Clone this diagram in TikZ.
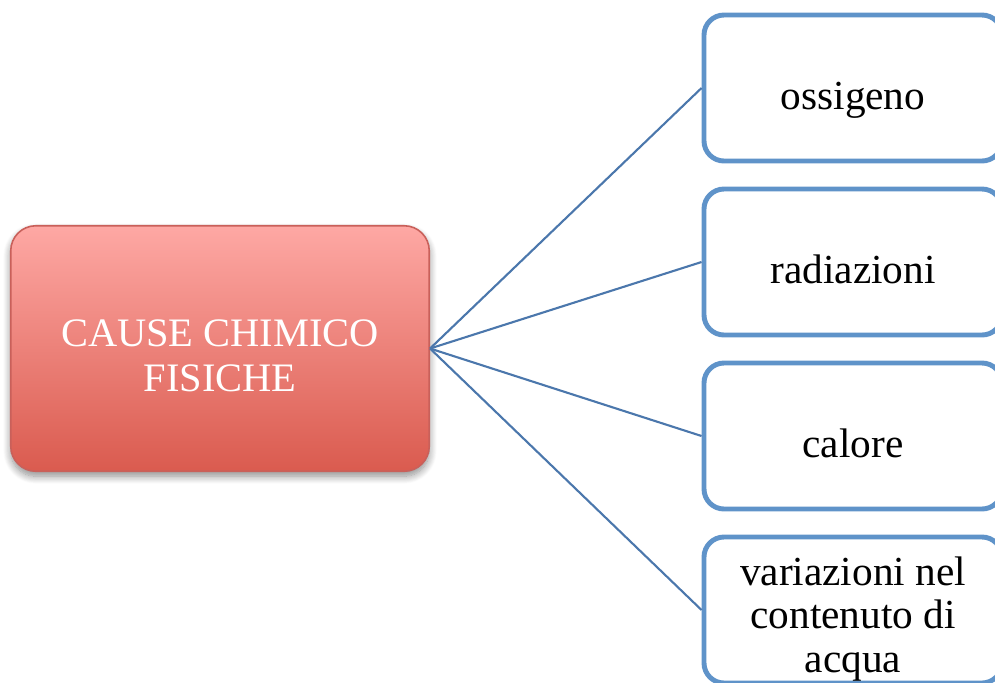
\documentclass[tikz,border=0pt]{standalone}
\usepackage{fontspec}
\setmainfont{Liberation Serif}
\usepackage{tikz}
\usetikzlibrary{shadows.blur}

\definecolor{causetop}{HTML}{FEA8A4}
\definecolor{causebot}{HTML}{DA5B4F}
\definecolor{causeline}{HTML}{C9605A}
\definecolor{boxline}{HTML}{5F93C9}
\definecolor{linkline}{HTML}{4B77AC}

% lines of a node, set a little lower than its centre
\newcommand{\lowlines}[3]{\parbox{#1}{\centering\kern#2#3\par\kern-#2}}

\begin{document}
\begin{tikzpicture}[
	causebox/.style={rectangle, rounded corners=0.5cm, draw=causeline, line width=0.9pt,
		top color=causetop, bottom color=causebot, text=white,
		minimum width=8.37cm, minimum height=4.91cm, inner sep=0pt,
		font=\fontsize{23}{25.5}\selectfont,
		blur shadow={shadow xshift=0cm, shadow yshift=-0.1cm, shadow blur steps=10,
			shadow blur radius=0.15cm, shadow opacity=45}},
	itembox/.style={rectangle, rounded corners=0.4cm, draw=boxline, line width=2.8pt,
		fill=white, minimum width=5.96cm, minimum height=2.92cm, inner sep=0pt,
		font=\fontsize{23.5}{24.5}\selectfont},
	oneline/.style={text height=26pt, text depth=1pt},
	link/.style={draw=linkline, line width=1.2pt}
	]

	\useasboundingbox (0,0) rectangle (19.9,-13.64);

	\node[causebox] (cause) at (4.4,-6.97)
		{\lowlines{8cm}{0.14cm}{CAUSE CHIMICO\\FISICHE}};

	\node[itembox, oneline] (ossigeno) at (17.06,-1.76) {ossigeno};
	\node[itembox, oneline] (radiazioni) at (17.06,-5.24) {radiazioni};
	\node[itembox, oneline] (calore) at (17.06,-8.72) {calore};
	\node[itembox] (acqua) at (17.06,-12.2)
		{\lowlines{5.8cm}{0.18cm}{variazioni nel\\contenuto di\\acqua}};

	\draw[link] (cause.east) -- (ossigeno.west);
	\draw[link] (cause.east) -- (radiazioni.west);
	\draw[link] (cause.east) -- (calore.west);
	\draw[link] (cause.east) -- (acqua.west);

\end{tikzpicture}
\end{document}
